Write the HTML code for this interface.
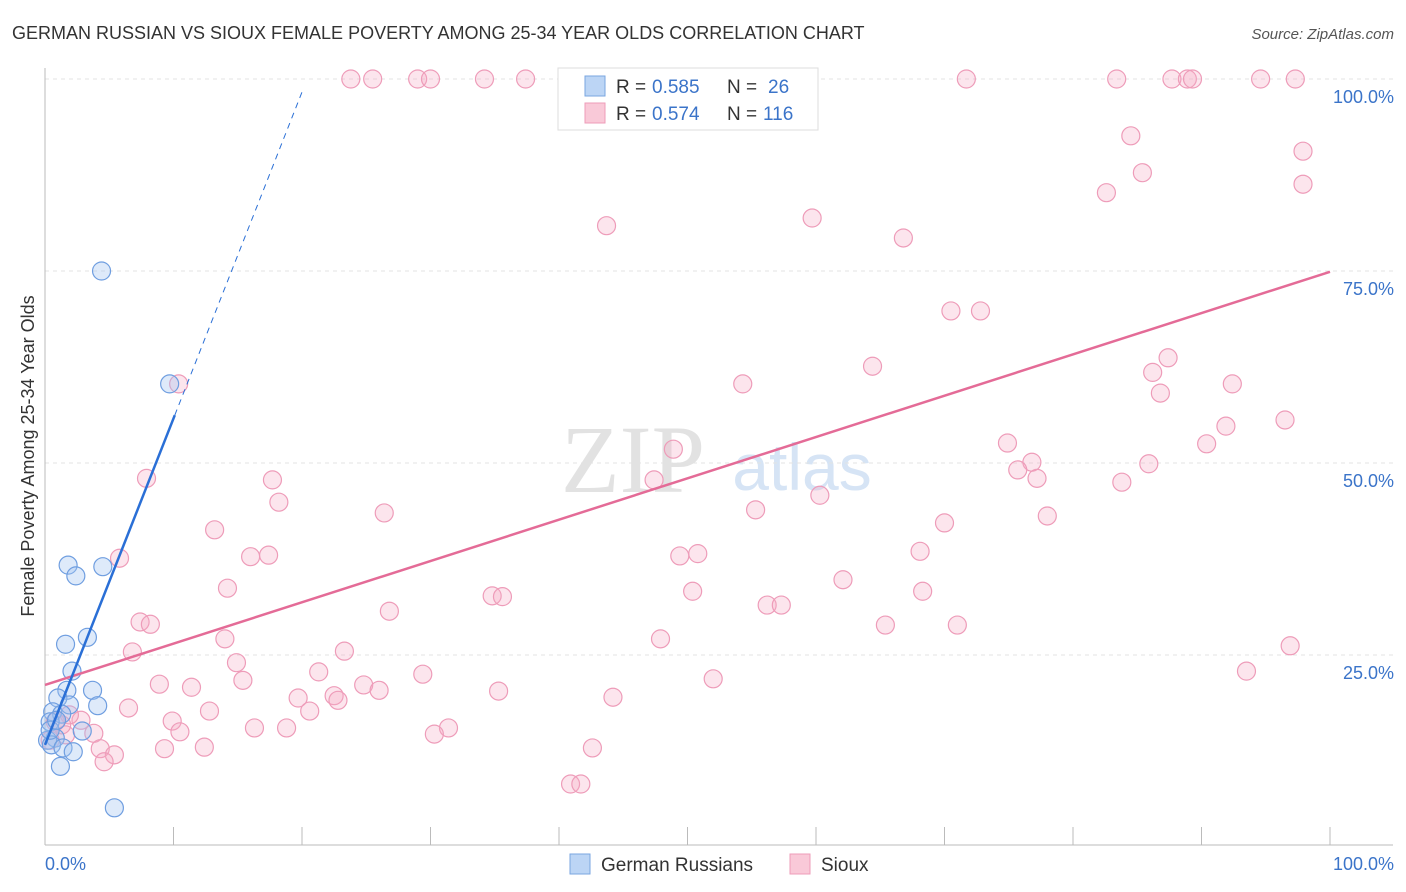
<!DOCTYPE html>
<html><head><meta charset="utf-8"><style>
body{margin:0;background:#fff;font-family:"Liberation Sans",sans-serif;}
svg{display:block}
</style></head><body>
<svg id="chart" width="1406" height="892">
<text x="12" y="39" font-size="18" fill="#333">GERMAN RUSSIAN VS SIOUX FEMALE POVERTY AMONG 25-34 YEAR OLDS CORRELATION CHART</text>
<text x="1394" y="39" font-size="15" fill="#555" font-style="italic" text-anchor="end">Source: ZipAtlas.com</text>
<g>
<text x="633" y="492" font-size="96" font-family="Liberation Serif,serif" fill="#e2e2e2" text-anchor="middle">ZIP</text>
<text x="802" y="490" font-size="66" fill="#d6e4f5" text-anchor="middle">atlas</text>
</g>
<g id="grid"></g>
<g id="axes"></g>
<g id="pink"></g>
<g id="blue"></g>
<g id="trends"></g>
<text transform="translate(34,456) rotate(-90)" font-size="18" fill="#333" text-anchor="middle">Female Poverty Among 25-34 Year Olds</text>
<text x="45" y="870" font-size="18" fill="#3b74c9">0.0%</text>
<text x="1394" y="870" font-size="18" fill="#3b74c9" text-anchor="end">100.0%</text>
<g>
<rect x="558" y="68" width="260" height="62" fill="#fff" stroke="#ddd"/>
<rect x="585" y="76" width="20" height="20" fill="#bcd5f5" stroke="#7aa6e0"/>
<text x="616" y="93" font-size="19" fill="#333">R =</text>
<text x="652" y="93" font-size="19" fill="#3b74c9">0.585</text>
<text x="727" y="93" font-size="19" fill="#333">N =</text>
<text x="768" y="93" font-size="19" fill="#3b74c9">26</text>
<rect x="585" y="103" width="20" height="20" fill="#f9c9d8" stroke="#ee9cb9"/>
<text x="616" y="120" font-size="19" fill="#333">R =</text>
<text x="652" y="120" font-size="19" fill="#3b74c9">0.574</text>
<text x="727" y="120" font-size="19" fill="#333">N =</text>
<text x="763" y="120" font-size="19" fill="#3b74c9">116</text>
</g>
<g>
<rect x="570" y="854" width="20" height="20" fill="#bcd5f5" stroke="#7aa6e0"/>
<text x="601" y="871" font-size="19" fill="#333">German Russians</text>
<rect x="790" y="854" width="20" height="20" fill="#f9c9d8" stroke="#ee9cb9"/>
<text x="821" y="871" font-size="19" fill="#333">Sioux</text>
</g>
</svg>
<script>
const yTicks=[25,50,75,100];
const yTickLabels=["25.0%","50.0%","75.0%","100.0%"];
const xTicks=[10,20,30,40,50,60,70,80,90,100];
const blueX=[4.4,9.7,1.8,4.5,2.4,3.3,1.6,2.1,1.7,3.7,1.0,4.1,1.9,0.6,1.3,0.4,2.9,0.8,0.2,0.5,1.4,2.2,1.2,5.4,0.4,0.9];
const blueY=[75.0,60.3,36.7,36.5,35.3,27.3,26.4,22.9,20.4,20.4,19.4,18.4,18.5,17.6,17.3,16.3,15.1,14.2,13.9,13.3,12.9,12.4,10.5,5.1,15.2,16.5];
const pinkX=[23.8,25.5,29.0,30.0,34.2,37.4,71.7,83.4,87.7,88.9,89.3,94.6,97.3,84.5,97.9,85.4,82.6,97.9,43.7,59.7,66.8,70.5,72.8,64.4,54.3,87.4,86.2,92.4,86.8,96.5,91.9,48.9,74.9,90.4,76.8,85.9,75.7,77.2,83.8,47.4,7.9,17.7,18.2,60.3,55.3,26.4,78.0,13.2,70.0,5.8,16.0,17.4,49.4,50.8,68.1,14.2,62.1,50.4,68.3,34.8,35.6,56.2,57.3,26.8,7.4,8.2,65.4,71.0,14.0,47.9,6.8,23.3,96.9,14.9,21.3,93.5,15.4,8.9,52.0,11.4,24.8,29.4,26.0,35.3,19.7,22.5,22.8,44.2,6.5,12.8,20.6,9.9,2.8,0.8,1.9,10.5,16.3,18.8,31.4,30.3,3.8,1.6,0.4,12.4,9.3,4.3,5.4,4.6,42.6,40.9,41.7,10.4,1.3];
const pinkY=[100,100,100,100,100,100,100,100,100,100,100,100,100,92.6,90.6,87.8,85.2,86.3,80.9,81.9,79.3,69.8,69.8,62.6,60.3,63.7,61.8,60.3,59.1,55.6,54.8,51.8,52.6,52.5,50.1,49.9,49.1,48.0,47.5,47.8,48.0,47.8,44.9,45.8,43.9,43.5,43.1,41.3,42.2,37.6,37.8,38.0,37.9,38.2,38.5,33.7,34.8,33.3,33.3,32.7,32.6,31.5,31.5,30.7,29.3,29.0,28.9,28.9,27.1,27.1,25.4,25.5,26.2,24.0,22.8,22.9,21.7,21.2,21.9,20.8,21.1,22.5,20.4,20.3,19.4,19.7,19.1,19.5,18.1,17.7,17.7,16.4,16.5,16.3,17.2,15.0,15.5,15.5,15.5,14.7,14.8,14.6,13.9,13.0,12.8,12.8,12.0,11.1,12.9,8.2,8.2,60.3,15.9];
const pinkTrend=[21.1,74.9];
const blueTrend=[13.3,98.3];
const blueSolidEnd=10.1;

const NS="http://www.w3.org/2000/svg";
const X=v=>45+v*12.85, Y=v=>847-v*7.68;
function mk(tag,parent,attrs){const e=document.createElementNS(NS,tag);for(const k in attrs)e.setAttribute(k,attrs[k]);parent.appendChild(e);return e;}
const grid=document.getElementById('grid'),axes=document.getElementById('axes');
yTicks.forEach((t,i)=>{
  const l=mk('line',grid,{x1:45,x2:1393,y1:Y(t),y2:Y(t),stroke:'#e3e3e3','stroke-dasharray':'4,4'});
  
  
  const tx=mk('text',grid,{x:1394,y:Y(t)+24,'font-size':18,fill:'#3b74c9','text-anchor':'end'});
  tx.textContent=yTickLabels[i];
  
  
});
let a=mk('line',axes,{x1:45,x2:45,y1:68,y2:845,stroke:'#bbb'});


a=mk('line',axes,{x1:45,x2:1393,y1:845,y2:845,stroke:'#bbb'});


xTicks.forEach(t=>{
  const l=mk('line',axes,{x1:X(t),x2:X(t),y1:827,y2:845,stroke:'#bbb'});
  
  
});
const pg=document.getElementById('pink');
pinkX.forEach((x,i)=>{
  const c=mk('circle',pg,{cx:X(x),cy:Y(pinkY[i]),r:9,fill:'rgba(244,170,196,0.3)',stroke:'#ee9cb9','stroke-width':1.2});
  
  
});
const bg=document.getElementById('blue');
blueX.forEach((x,i)=>{
  const c=mk('circle',bg,{cx:X(x),cy:Y(blueY[i]),r:9,fill:'rgba(160,196,240,0.35)',stroke:'#6f9ee0','stroke-width':1.2});
  
  
});
const tg=document.getElementById('trends');
let t=mk('line',tg,{x1:X(0),y1:Y(pinkTrend[0]),x2:X(100),y2:Y(pinkTrend[1]),stroke:'#e46b97','stroke-width':2.5});


const by=x=>blueTrend[0]+(blueTrend[1]-blueTrend[0])*x/20;
t=mk('line',tg,{x1:X(0),y1:Y(by(0)),x2:X(blueSolidEnd),y2:Y(by(blueSolidEnd)),stroke:'#2a6fd6','stroke-width':2.5});


t=mk('line',tg,{x1:X(blueSolidEnd),y1:Y(by(blueSolidEnd)),x2:X(20),y2:Y(by(20)),stroke:'#2a6fd6','stroke-width':1,'stroke-dasharray':'6,5'});


</script>
</body></html>
